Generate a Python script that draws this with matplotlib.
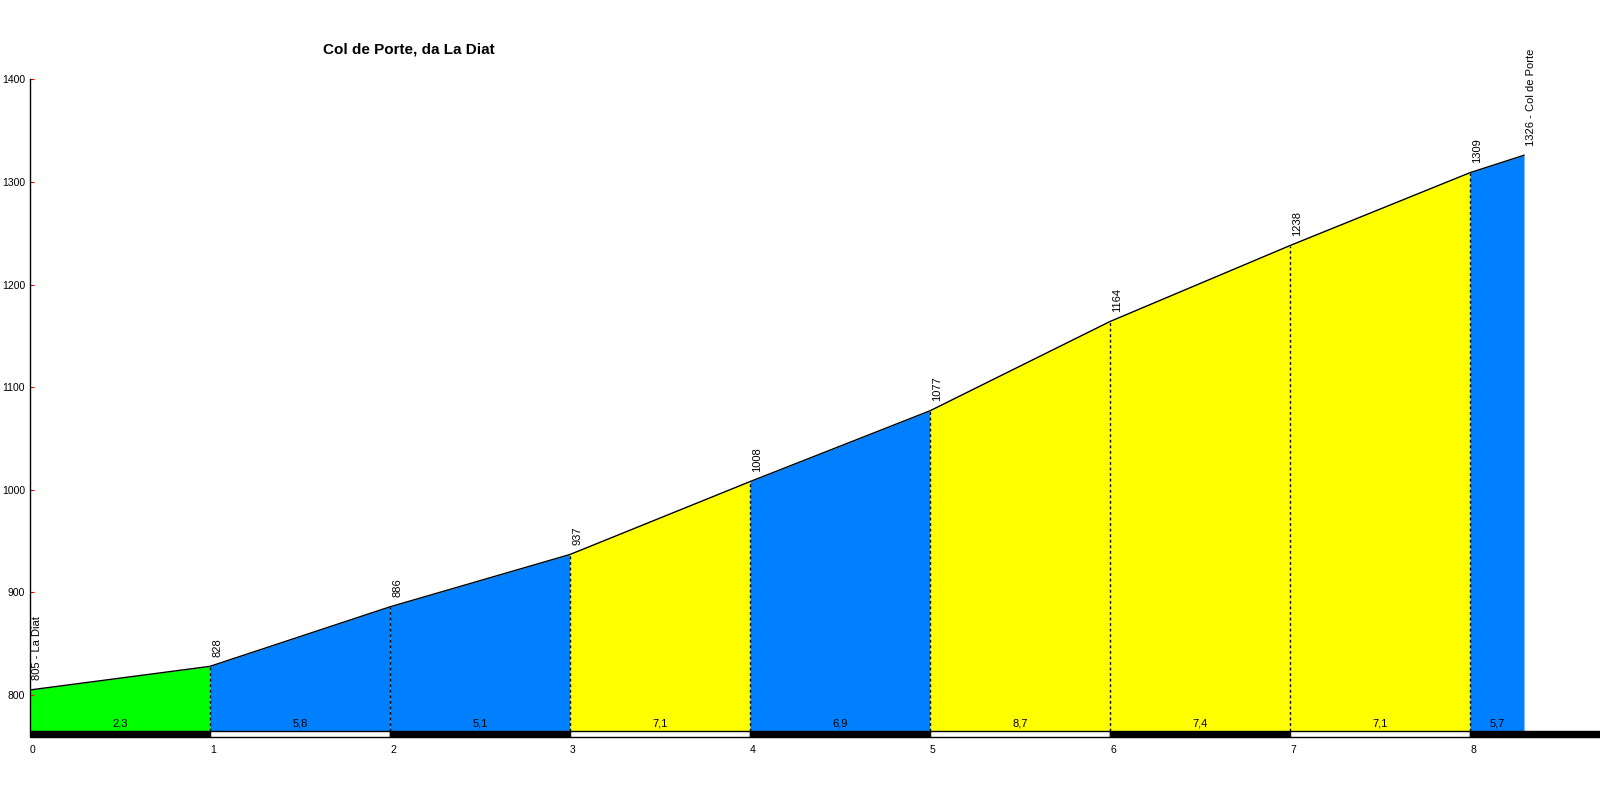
import matplotlib
matplotlib.use("Agg")
import matplotlib.pyplot as plt
from matplotlib.patches import Rectangle

plt.rcParams['font.family'] = ['Liberation Sans', 'DejaVu Sans']

titolo = "Col de Porte, da La Diat"
km = [0, 1, 2, 3, 4, 5, 6, 7, 8, 8.3]
quota = [805, 828, 886, 937, 1008, 1077, 1164, 1238, 1309, 1326]
etichette = ["805 - La Diat", "828", "886", "937", "1008", "1077", "1164",
             "1238", "1309", "1326 - Col de Porte"]
pendenze = [2.3, 5.8, 5.1, 7.1, 6.9, 8.7, 7.4, 7.1, 5.7]
colori = ["#00ff00", "#0080ff", "#0080ff", "#ffff00", "#0080ff",
          "#ffff00", "#ffff00", "#ffff00", "#0080ff"]

ymin, ymax = 765, 1400
xmax = (1600 - 30) / 180.0

fig = plt.figure(figsize=(16, 8), dpi=100)
ax = fig.add_axes([30 / 1600, (800 - 731) / 800, 1 - 30 / 1600, (731 - 79.3) / 800])
ax.set_xlim(0, xmax)
ax.set_ylim(ymin, ymax)

# riempimento per tratto
for i in range(len(pendenze)):
    ax.fill_between(km[i:i + 2], quota[i:i + 2], ymin, color=colori[i], lw=0)
ax.plot(km, quota, color="black", lw=1)

# linee tratteggiate ai km
for i in range(1, len(km) - 1):
    ax.plot([km[i], km[i]], [ymin, quota[i]], color="black", lw=1,
            linestyle=(0, (2, 2)))

# quote ruotate
for i in range(len(km)):
    ax.annotate(etichette[i], (km[i], quota[i]), xytext=(1.5, 7),
                textcoords="offset points", rotation=90, ha="left",
                va="bottom", fontsize=8, annotation_clip=False)

# pendenze
for i in range(len(pendenze)):
    xm = (km[i] + km[i + 1]) / 2
    ax.annotate(("%.1f" % pendenze[i]).replace(".", ","), (xm, ymin),
                xytext=(0, 1.5), textcoords="offset points", ha="center",
                va="bottom", fontsize=8)

# barra chilometrica
h = 6 / ((731 - 79.3) / (ymax - ymin))
for i in range(len(km) - 1):
    x0 = km[i]
    x1 = km[i + 1] if i < len(km) - 2 else xmax
    fc = "black" if i % 2 == 0 else "white"
    ax.add_patch(Rectangle((x0, ymin - h), x1 - x0, h, facecolor=fc,
                           edgecolor="black", lw=1, clip_on=False))

ax.spines["top"].set_visible(False)
ax.spines["right"].set_visible(False)
ax.spines["bottom"].set_visible(False)
ax.spines["left"].set_linewidth(1)

ax.set_yticks(range(800, 1401, 100))
ax.set_xticks(range(0, 9))
ax.tick_params(axis="y", direction="in", length=3, color="red", labelsize=7.5, pad=3.5)
ax.tick_params(axis="x", length=0, labelsize=7.5, pad=10)
for lab in ax.get_xticklabels():
    lab.set_horizontalalignment("left")
    lab.set_x(lab.get_position()[0])

fig.text(409 / 1600, 750 / 800, titolo, ha="center", va="center",
         fontsize=11, fontweight="bold")

fig.savefig("out.png", dpi=100)
